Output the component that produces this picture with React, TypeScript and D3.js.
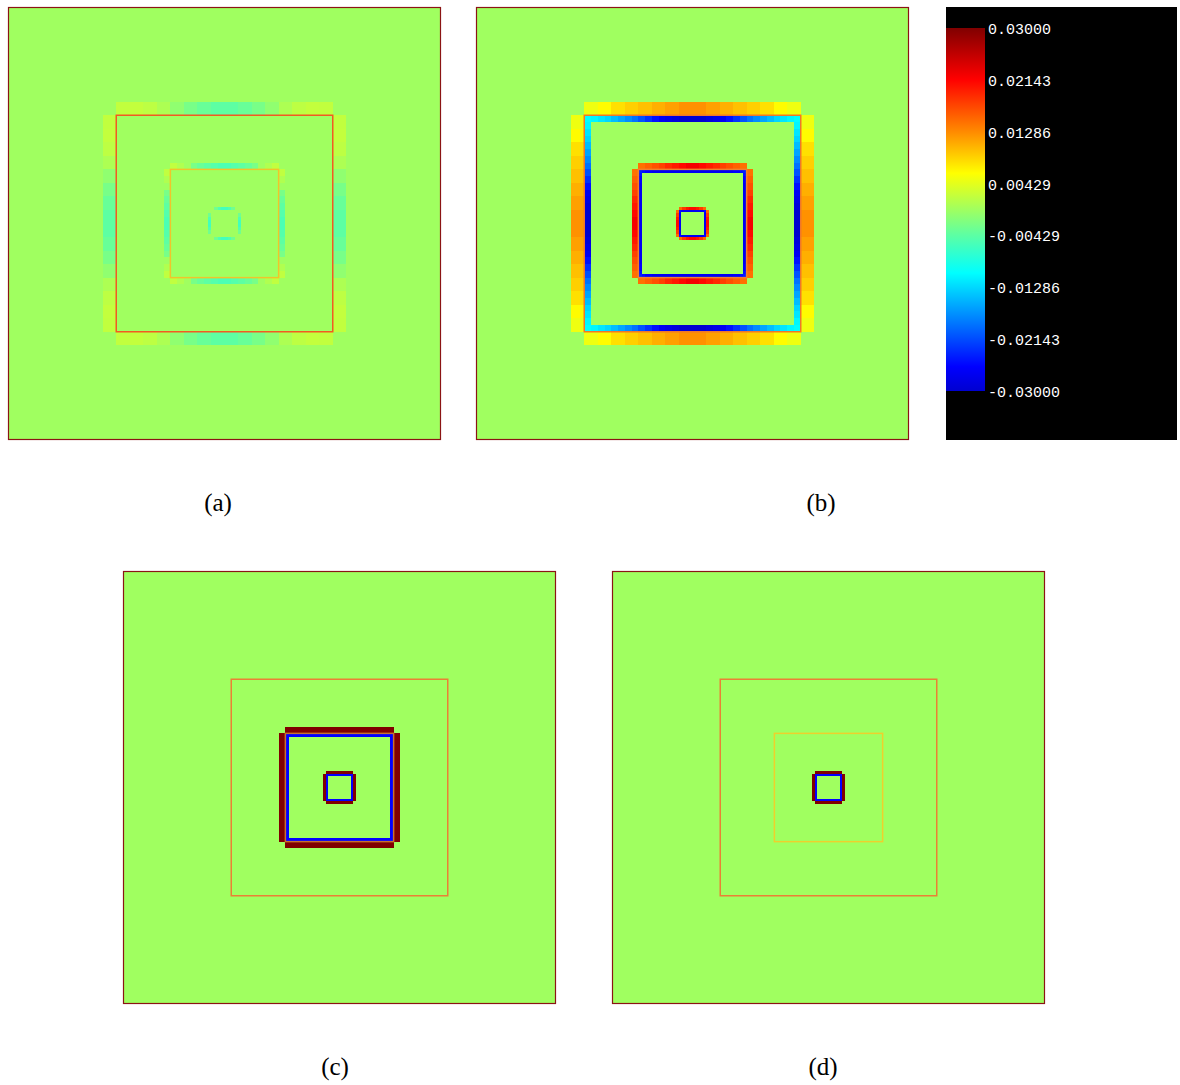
import React from "react";
import * as d3 from "d3";

// ---- colour map (value -> colour) ----
const cmapValues = [-0.03, -0.026, -0.0105, -0.004, 0, 0.006, 0.013, 0.0215, 0.03];
const cmapColors = ["#0000d0", "#0000ff", "#00ffff", "#60ffa0", "#a0ff60", "#ffff00", "#ff8800", "#ff0000", "#800000"];

// ---- colour bar ticks ----
const tickValues = [0.03, 0.02143, 0.01286, 0.00429, -0.00429, -0.01286, -0.02143, -0.03];
const tickLabels = ["0.03000", "0.02143", "0.01286", "0.00429", "-0.00429", "-0.01286", "-0.02143", "-0.03000"];

// ---- refined box extents on the unit domain ----
const level1Box = [0.25, 0.75];
const level2Box = [0.375, 0.625];
const level3Box = [0.46875, 0.53125];

// "Ring": coarse cells just outside a refined box (one edge, mirrored on all four sides)
// "Edge": fine cells just inside a refined box
const aLevel1Ring = [0.0021, 0.0022, 0.0018, 0.0008, -0.001, -0.0025, -0.0035, -0.0042, -0.0042, -0.0035, -0.0025, -0.001, 0.0008, 0.0018, 0.0022, 0.0021];
const aLevel2Ring = [0.002, 0.001, 0.0, -0.0025, -0.0035, -0.0042, -0.0048, -0.0054, -0.0054, -0.0048, -0.0042, -0.0035, -0.0025, 0.0, 0.001, 0.002];
const aLevel3Ring = [0.0, -0.003, -0.005, -0.006, -0.006, -0.005, -0.003, 0.0];

const bLevel1Ring = [0.005, 0.0062, 0.0078, 0.0088, 0.0097, 0.0107, 0.0116, 0.0125, 0.0125, 0.0116, 0.0107, 0.0097, 0.0088, 0.0078, 0.0062, 0.005];
const bLevel1Edge = [
  -0.0105, -0.011, -0.012, -0.013, -0.0145, -0.016, -0.0175, -0.019, -0.021, -0.023, -0.025, -0.027, -0.028, -0.029, -0.03, -0.03,
  -0.03, -0.03, -0.029, -0.028, -0.027, -0.025, -0.023, -0.021, -0.019, -0.0175, -0.016, -0.0145, -0.013, -0.012, -0.011, -0.0105,
];
const bLevel2Ring = [0.0145, 0.0155, 0.0165, 0.0175, 0.019, 0.02, 0.021, 0.0222, 0.0222, 0.021, 0.02, 0.019, 0.0175, 0.0165, 0.0155, 0.0145];
const bLevel2Edge = [
  -0.024, -0.025, -0.026, -0.026, -0.027, -0.027, -0.027, -0.027, -0.027, -0.027, -0.027, -0.027, -0.027, -0.027, -0.027, -0.027,
  -0.027, -0.027, -0.027, -0.027, -0.027, -0.027, -0.027, -0.027, -0.027, -0.027, -0.027, -0.027, -0.026, -0.026, -0.025, -0.024,
];
const bLevel3Ring = [0.015, 0.018, 0.02, 0.021, 0.021, 0.02, 0.018, 0.015];
const bLevel3Edge = [-0.025, -0.026, -0.027, -0.027, -0.027, -0.027, -0.027, -0.027, -0.027, -0.027, -0.027, -0.027, -0.027, -0.027, -0.026, -0.025];

const cLevel2Ring = [0.032, 0.032, 0.032, 0.032, 0.032, 0.032, 0.032, 0.032, 0.032, 0.032, 0.032, 0.032, 0.032, 0.032, 0.032, 0.032];
const cLevel2Edge = [
  -0.026, -0.026, -0.026, -0.026, -0.026, -0.026, -0.026, -0.026, -0.026, -0.026, -0.026, -0.026, -0.026, -0.026, -0.026, -0.026,
  -0.026, -0.026, -0.026, -0.026, -0.026, -0.026, -0.026, -0.026, -0.026, -0.026, -0.026, -0.026, -0.026, -0.026, -0.026, -0.026,
];
const cLevel3Ring = [0.032, 0.032, 0.032, 0.032, 0.032, 0.032, 0.032, 0.032];
const cLevel3Edge = [-0.026, -0.026, -0.026, -0.026, -0.026, -0.026, -0.026, -0.026, -0.026, -0.026, -0.026, -0.026, -0.026, -0.026, -0.026, -0.026];

const dLevel3Ring = [0.032, 0.032, 0.032, 0.032, 0.032, 0.032, 0.032, 0.032];
const dLevel3Edge = [-0.026, -0.026, -0.026, -0.026, -0.026, -0.026, -0.026, -0.026, -0.026, -0.026, -0.026, -0.026, -0.026, -0.026, -0.026, -0.026];

type Band = { box: number[]; kind: "ring" | "edge"; values: number[] };
type Outline = { box: number[]; color: string };
type Panel = { label: string; x: number; y: number; lx: number; ly: number; bands: Band[]; outlines: Outline[] };

const SIZE = 433;

const panels: Panel[] = [
  {
    label: "(a)", x: 8, y: 7, lx: 218, ly: 511,
    bands: [
      { box: level1Box, kind: "ring", values: aLevel1Ring },
      { box: level2Box, kind: "ring", values: aLevel2Ring },
      { box: level3Box, kind: "ring", values: aLevel3Ring },
    ],
    outlines: [
      { box: level1Box, color: "#f25a22" },
      { box: level2Box, color: "#f0c42a" },
    ],
  },
  {
    label: "(b)", x: 476, y: 7, lx: 821, ly: 511,
    bands: [
      { box: level1Box, kind: "ring", values: bLevel1Ring },
      { box: level1Box, kind: "edge", values: bLevel1Edge },
      { box: level2Box, kind: "ring", values: bLevel2Ring },
      { box: level2Box, kind: "edge", values: bLevel2Edge },
      { box: level3Box, kind: "ring", values: bLevel3Ring },
      { box: level3Box, kind: "edge", values: bLevel3Edge },
    ],
    outlines: [
      { box: level1Box, color: "#f07828" },
      { box: level2Box, color: "#f08030" },
    ],
  },
  {
    label: "(c)", x: 123, y: 571, lx: 335, ly: 1075,
    bands: [
      { box: level2Box, kind: "ring", values: cLevel2Ring },
      { box: level2Box, kind: "edge", values: cLevel2Edge },
      { box: level3Box, kind: "ring", values: cLevel3Ring },
      { box: level3Box, kind: "edge", values: cLevel3Edge },
    ],
    outlines: [
      { box: level1Box, color: "#ea8035" },
      { box: level2Box, color: "#c87030" },
    ],
  },
  {
    label: "(d)", x: 612, y: 571, lx: 823, ly: 1075,
    bands: [
      { box: level3Box, kind: "ring", values: dLevel3Ring },
      { box: level3Box, kind: "edge", values: dLevel3Edge },
    ],
    outlines: [
      { box: level1Box, color: "#ea8035" },
      { box: level2Box, color: "#eed02c" },
    ],
  },
];

const color = d3.scaleLinear<string>().domain(cmapValues).range(cmapColors).interpolate(d3.interpolateRgb).clamp(true);

type Cell = { x0: number; x1: number; y0: number; y1: number; v: number };

// Expand one edge profile into cells on all four sides of a box
function bandCells(band: Band): Cell[] {
  const [b0, b1] = band.box;
  const n = band.values.length;
  const s = (b1 - b0) / n;
  const out: Cell[] = [];
  band.values.forEach((v, i) => {
    const t = b0 + i * s;
    if (band.kind === "ring") {
      out.push({ x0: t, x1: t + s, y0: b0 - s, y1: b0, v });
      out.push({ x0: t, x1: t + s, y0: b1, y1: b1 + s, v });
      out.push({ x0: b0 - s, x1: b0, y0: t, y1: t + s, v });
      out.push({ x0: b1, x1: b1 + s, y0: t, y1: t + s, v });
    } else {
      out.push({ x0: t, x1: t + s, y0: b0, y1: b0 + s, v });
      out.push({ x0: t, x1: t + s, y0: b1 - s, y1: b1, v });
      out.push({ x0: b0, x1: b0 + s, y0: t, y1: t + s, v });
      out.push({ x0: b1 - s, x1: b1, y0: t, y1: t + s, v });
    }
  });
  return out;
}

function FieldPanel({ p }: { p: Panel }) {
  const sx = d3.scaleLinear().domain([0, 1]).range([p.x, p.x + SIZE]);
  const sy = d3.scaleLinear().domain([0, 1]).range([p.y, p.y + SIZE]);
  return (
    <g>
      <rect x={sx(0)} y={sy(0)} width={sx(1) - sx(0)} height={sy(1) - sy(0)} fill={color(0)} />
      <g shapeRendering="crispEdges">
        {p.bands.flatMap((b, bi) =>
          bandCells(b).map((c, ci) => (
            <rect
              key={`${bi}-${ci}`}
              x={sx(c.x0)}
              y={sy(c.y0)}
              width={sx(c.x1) - sx(c.x0)}
              height={sy(c.y1) - sy(c.y0)}
              fill={color(c.v)}
            />
          ))
        )}
      </g>
      {p.outlines.map((o, i) => (
        <rect
          key={i}
          x={sx(o.box[0])}
          y={sy(o.box[0])}
          width={sx(o.box[1]) - sx(o.box[0])}
          height={sy(o.box[1]) - sy(o.box[0])}
          fill="none"
          stroke={o.color}
          strokeWidth={1.5}
        />
      ))}
      <rect
        x={sx(0) + 0.5}
        y={sy(0) + 0.5}
        width={sx(1) - sx(0) - 1}
        height={sy(1) - sy(0) - 1}
        fill="none"
        stroke="#8b1414"
        strokeWidth={1.2}
      />
      <text
        x={p.lx}
        y={p.ly}
        textAnchor="middle"
        fontFamily="'Liberation Serif', 'Times New Roman', serif"
        fontSize={25}
        fill="#000"
      >
        {p.label}
      </text>
    </g>
  );
}

function ColorBar() {
  const barX = 946;
  const barW = 39;
  const sy = d3.scaleLinear().domain([-0.03, 0.03]).range([391, 28]);
  const stops = cmapValues.map((v, i) => ({ off: (v + 0.03) / 0.06, c: cmapColors[i] }));
  return (
    <g>
      <defs>
        <linearGradient id="cbarGrad" x1="0" y1="1" x2="0" y2="0">
          {stops.map((s, i) => (
            <stop key={i} offset={s.off} stopColor={s.c} />
          ))}
        </linearGradient>
      </defs>
      <rect x={946} y={7} width={231} height={433} fill="#000" />
      <rect x={barX} y={sy(0.03)} width={barW} height={sy(-0.03) - sy(0.03)} fill="url(#cbarGrad)" />
      {tickValues.map((v, i) => (
        <text
          key={i}
          x={988}
          y={sy(v) + 2}
          dominantBaseline="middle"
          fill="#fff"
          fontFamily="'Liberation Mono', 'DejaVu Sans Mono', monospace"
          fontSize={15}
        >
          {tickLabels[i]}
        </text>
      ))}
    </g>
  );
}

export default function App() {
  return (
    <svg
      width={1180}
      height={1085}
      style={{ position: "absolute", left: 0, top: 0, background: "#fff" }}
    >
      {panels.map((p) => (
        <FieldPanel key={p.label} p={p} />
      ))}
      <ColorBar />
    </svg>
  );
}
